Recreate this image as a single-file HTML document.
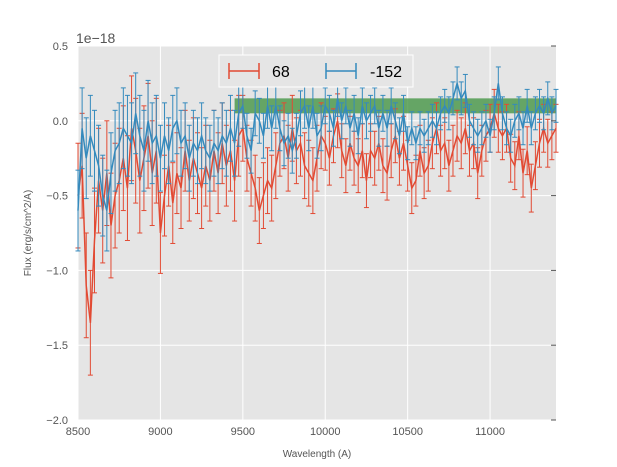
<!DOCTYPE html>
<html><head><meta charset="utf-8"><style>
html,body{margin:0;padding:0;background:#fff;}
svg{display:block;font-family:"Liberation Sans","DejaVu Sans",sans-serif;}
</style></head><body>
<svg id="chart" width="617" height="467">
<rect x="78" y="46" width="478" height="374" fill="#e5e5e5"/>
<g id="grid"></g><g id="band"></g><g id="series"></g><g id="axes"></g>
<text x="76" y="43" font-size="14" fill="#555">1e−18</text>
<text x="317" y="457" font-size="10" fill="#555" text-anchor="middle">Wavelength (A)</text>
<text transform="translate(31,233) rotate(-90)" font-size="10" fill="#555" text-anchor="middle">Flux (erg/s/cm^2/A)</text>
<g>
<rect x="219" y="55" width="194" height="32" fill="#e5e5e5" stroke="#fff" stroke-width="1"/>
<g>
<line x1="229" y1="71" x2="259" y2="71" stroke="#e24a33" stroke-width="1.5"/><line x1="229" y1="63" x2="229" y2="79" stroke="#e24a33" stroke-width="1.5"/><line x1="259" y1="63" x2="259" y2="79" stroke="#e24a33" stroke-width="1.5"/>
<text x="272" y="77" font-size="16" fill="#000">68</text></g>
<g>
<line x1="326" y1="71" x2="356" y2="71" stroke="#348abd" stroke-width="1.5"/><line x1="326" y1="63" x2="326" y2="79" stroke="#348abd" stroke-width="1.5"/><line x1="356" y1="63" x2="356" y2="79" stroke="#348abd" stroke-width="1.5"/>
<text x="370" y="77" font-size="16" fill="#000">-152</text></g>
</g>
</svg>
<script>
const xStart = 8500, xStep = 25;
const red68 = [-0.5,-0.3,-1.1,-1.35,-0.8,-0.4,-0.6,-0.35,-0.7,-0.5,-0.4,-0.25,-0.45,-0.05,-0.2,-0.4,-0.25,-0.1,-0.35,-0.2,-0.75,-0.5,-0.3,-0.55,-0.35,-0.45,-0.2,-0.4,-0.25,-0.35,-0.45,-0.3,-0.4,-0.2,-0.35,-0.15,-0.3,-0.2,-0.4,-0.1,-0.05,-0.25,-0.35,-0.45,-0.6,-0.5,-0.4,-0.45,-0.3,-0.15,-0.1,-0.25,-0.05,-0.2,-0.15,-0.3,-0.35,-0.4,-0.25,-0.1,-0.15,-0.25,-0.1,0.0,-0.2,-0.3,-0.15,-0.25,-0.3,-0.2,-0.4,-0.2,-0.25,-0.15,-0.3,-0.35,-0.2,-0.1,-0.25,-0.15,-0.3,-0.45,-0.4,-0.2,-0.35,-0.3,-0.15,-0.05,-0.2,-0.15,-0.3,-0.2,-0.1,-0.15,-0.05,-0.2,-0.15,-0.35,-0.2,-0.1,-0.05,0.05,-0.05,-0.1,-0.05,-0.25,-0.3,-0.1,-0.35,-0.2,-0.45,-0.3,-0.15,-0.05,-0.15,-0.1,-0.05];
const blue152 = [-0.6,-0.05,-0.25,-0.1,-0.2,-0.3,-0.5,-0.6,-0.35,-0.2,-0.15,-0.05,-0.1,-0.15,0.05,-0.1,-0.2,0.0,-0.15,-0.1,-0.25,-0.1,-0.2,-0.05,0.0,-0.15,-0.1,-0.25,-0.15,-0.2,-0.1,-0.2,-0.25,-0.15,-0.2,-0.1,-0.15,-0.05,-0.15,0.05,0.1,-0.1,-0.2,0.05,0.0,-0.1,0.1,-0.05,0.1,-0.05,-0.15,-0.1,-0.2,-0.1,0.05,0.1,-0.05,0.1,-0.1,-0.05,0.1,0.05,-0.05,0.15,0.0,0.1,-0.05,0.05,-0.1,0.1,0.0,0.05,0.1,-0.05,0.05,-0.05,0.1,0.0,-0.1,0.05,-0.15,-0.05,-0.15,-0.05,-0.1,-0.05,0.0,-0.05,0.05,0.1,0.05,0.15,0.25,0.15,0.2,0.0,-0.05,-0.1,-0.05,0.0,-0.1,0.05,0.25,0.05,-0.05,-0.1,0.0,0.05,-0.05,0.1,-0.05,0.05,0.1,0.05,0.15,0.05,0.1];
const errRedBins = [0.35,0.27,0.22,0.18,0.17,0.16];
const errBlueBins = [0.27,0.22,0.15,0.12,0.11,0.11];
const bandRange = [9450, 11400];
const bandLow = 0.05, bandHigh = 0.15;
const xTicks = [8500,9000,9500,10000,10500,11000];
const yTicks = [0.5,0.0,-0.5,-1.0,-1.5,-2.0];

const X0=78,X1=556,Y0=46,Y1=420, xMin=8500,xMax=11400,yMin=-2,yMax=0.5;
const sx=v=>X0+(v-xMin)/(xMax-xMin)*(X1-X0);
const sy=v=>Y0+(yMax-v)/(yMax-yMin)*(Y1-Y0);
const NS='http://www.w3.org/2000/svg';
function mk(p,t,a){const e=document.createElementNS(NS,t);for(const k in a)e.setAttribute(k,a[k]);p.appendChild(e);return e;}
const grid=document.getElementById('grid'),axes=document.getElementById('axes');
xTicks.forEach(t=>{
 const l=mk(grid,'line',{x1:sx(t),x2:sx(t),y1:Y0,y2:Y1,stroke:'#fff','stroke-width':1});
 
 
 const tx=mk(axes,'text',{x:sx(t),y:Y1+15,'font-size':11,fill:'#555','text-anchor':'middle'});
 tx.textContent=t;
 
 
});
yTicks.forEach(t=>{
 const l=mk(grid,'line',{x1:X0,x2:X1,y1:sy(t),y2:sy(t),stroke:'#fff','stroke-width':1});
 
 
 mk(axes,'line',{x1:X1-5,x2:X1,y1:sy(t),y2:sy(t),stroke:'#555'});
 const tx=mk(axes,'text',{x:X0-10,y:sy(t)+4,'font-size':11,fill:'#555','text-anchor':'end'});
 tx.textContent=t.toFixed(1).replace('-','\u2212');
 
 
});
const band=mk(document.getElementById('band'),'rect',{x:sx(bandRange[0]),y:sy(bandHigh),width:sx(bandRange[1])-sx(bandRange[0]),height:sy(bandLow)-sy(bandHigh),fill:'#3a8f3a','fill-opacity':0.75});


const ser=document.getElementById('series');
function draw(vals,bins,color,name){
 const g=mk(ser,'g',{});
 
 
 let d='';
 vals.forEach((v,i)=>{
  const xv=xStart+xStep*i, x=sx(xv);
  const e=bins[Math.min(bins.length-1,Math.floor((xv-xMin)/500))];
  const a=sy(v+e),b=sy(v-e);
  mk(g,'line',{x1:x,x2:x,y1:a,y2:b,stroke:color,'stroke-width':1});
  mk(g,'line',{x1:x-2.5,x2:x+2.5,y1:a,y2:a,stroke:color,'stroke-width':1});
  mk(g,'line',{x1:x-2.5,x2:x+2.5,y1:b,y2:b,stroke:color,'stroke-width':1});
  d+=(i?'L':'M')+x.toFixed(1)+','+sy(v).toFixed(1);
 });
 mk(g,'path',{d:d,fill:'none',stroke:color,'stroke-width':1.5});
}
draw(red68,errRedBins,'#e24a33','series-68');
draw(blue152,errBlueBins,'#348abd','series-152');
</script>
</body></html>
